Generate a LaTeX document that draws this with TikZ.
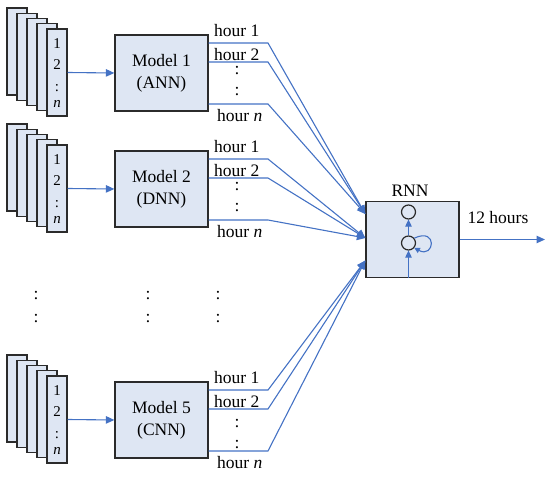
\documentclass[tikz,border=0pt]{standalone}
\usepackage{fontspec}
\setmainfont{Liberation Serif}
\usetikzlibrary{arrows.meta,calc}
\definecolor{lb}{HTML}{DEE6F3}
\definecolor{ab}{HTML}{4472C4}
\definecolor{bd}{HTML}{2B2B2B}
\tikzset{
  sheet/.style={draw=bd, fill=lb, line width=1.3pt},
  box/.style={draw=bd, fill=lb, line width=1.3pt, minimum width=93pt, minimum height=76pt, inner sep=0pt},
  conn/.style={draw=ab, line width=1.1pt},
  arr/.style={conn, -{Triangle[length=8.5pt,width=7.5pt]}},
  sarr/.style={conn, -{Triangle[length=7pt,width=6.5pt]}},
  txt/.style={font=\fontsize{17.5}{22}\selectfont, inner sep=0pt},
  stxt/.style={font=\fontsize{15}{18}\selectfont, inner sep=0pt, anchor=base},
  neuron/.style={circle, draw=bd, line width=1.2pt, minimum size=14pt, inner sep=0pt},
}
\begin{document}
\begin{tikzpicture}[x=1pt, y=-1pt]
\useasboundingbox (0,0) rectangle (550,481);
% RNN
\node[box] (rnn) at (412.5,239.5) {};
\node[txt, anchor=base] (rnnlab) at (410,197) {RNN};
\node[neuron] (c1) at (408.5,212) {};
\node[neuron] (c2) at (408.5,243) {};
\draw[sarr] (rnn.south -| c2) -- (c2.south);
\draw[sarr] (c2.north) -- (c1.south);
\draw[conn, -{Triangle[length=5.5pt,width=5.5pt]}] (c2.40) .. controls +(24,-11) and +(20,11) .. (c2.-40);
\coordinate (out) at (545,239.5);
\draw[arr] (rnn.east) -- (out);
\node[txt, anchor=base] (outlab) at (498,224) {12 hours};
\coordinate (e1) at ($(rnn.west)+(0,-25.5)$);
\coordinate (e2) at ($(rnn.west)+(0,-1.5)$);
\coordinate (e5) at ($(rnn.west)+(0,21)$);
% groups
\foreach \g/\off/\typ/\co in {1/0/ANN/0, 2/116/DNN/0, 5/347/CNN/6}{
  \begin{scope}[shift={(0,\off)}]
    \foreach \i in {0,...,3}{
      \path[sheet] (7+10*\i, 8+5.25*\i) rectangle (27+10*\i, 95+5.25*\i);
    }
    \node[sheet, minimum width=20pt, minimum height=87pt, inner sep=0pt] (s\g) at (57,72.5) {};
    \node[stxt] (s\g a) at (57,49) {1};
    \node[stxt] (s\g b) at (57,70) {2};
    \node[stxt] (s\g c) at (57,92) {:};
    \node[stxt] (s\g d) at (57,108) {\textit{n}};
    \node[box, txt, align=center] (m\g) at (161.5,73) {Model \g\\(\typ)};
    \draw[arr] (s\g.east) -- (m\g.west);
    \coordinate (ka\g) at (268,43);
    \coordinate (kb\g) at (268,62);
    \coordinate (kn\g) at (268,104);
    \draw[arr] (m\g.east |- ka\g) -- (ka\g) -- (e\g);
    \draw[arr] (m\g.east |- kb\g) -- (kb\g) -- (e\g);
    \draw[arr] (m\g.east |- kn\g) -- (kn\g) -- (e\g);
    \node[txt, anchor=base west] (ha\g) at (214,37) {hour 1};
    \node[txt, anchor=base west] (hb\g) at (214,61) {hour 2};
    \node[txt, anchor=base west] (hn\g) at (217,122) {hour \textit{n}};
    \node[txt, anchor=base] (da\g) at (237,75+\co) {:};
    \node[txt, anchor=base] (db\g) at (237,96+\co) {:};
  \end{scope}
}
% dots between groups
\foreach \x/\n in {36/a,148/b,218/c}{
  \node[txt, anchor=base] (v\n1) at (\x,300) {:};
  \node[txt, anchor=base] (v\n2) at (\x,323) {:};
}
\end{tikzpicture}
\end{document}
